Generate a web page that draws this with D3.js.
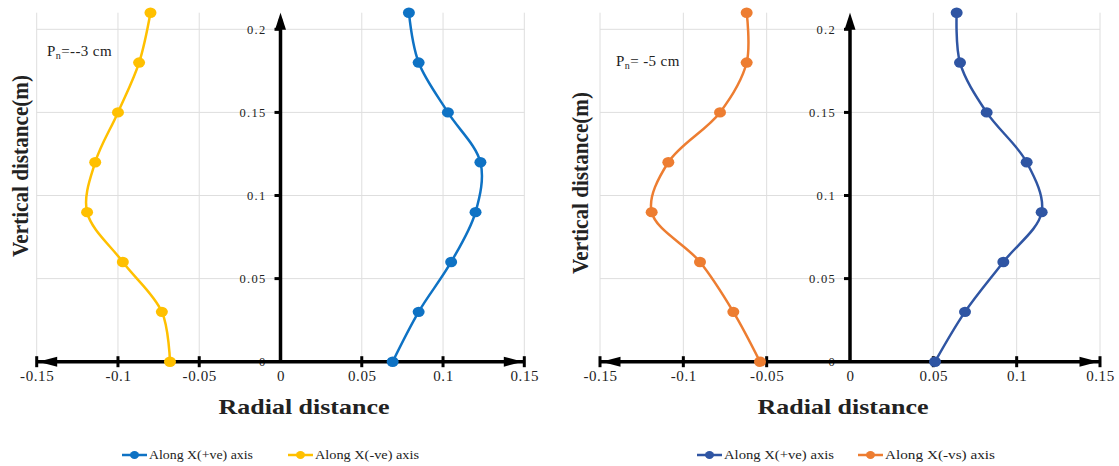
<!DOCTYPE html>
<html>
<head>
<meta charset="utf-8">
<script src="https://cdn.jsdelivr.net/npm/d3@7"></script>
<style>
body { margin: 0; background: #fff; }
text { font-family: "Liberation Serif", "Times New Roman", serif; fill: #222; }
</style>
</head>
<body>
<svg id="chart" width="1119" height="466"></svg>
<script>
// heights (m) where the readings were taken
var heights = [0, 0.03, 0.06, 0.09, 0.12, 0.15, 0.18, 0.21];

// Pn = -3 cm
var posA = [0.069, 0.085, 0.105, 0.12, 0.123, 0.103, 0.085, 0.079];
var negA = [-0.068, -0.073, -0.097, -0.119, -0.114, -0.1, -0.087, -0.08];

// Pn = -5 cm
var posB = [0.051, 0.069, 0.092, 0.115, 0.106, 0.082, 0.066, 0.064];
var negB = [-0.054, -0.07, -0.09, -0.119, -0.109, -0.078, -0.062, -0.062];

var xTicks = [-0.15, -0.1, -0.05, 0, 0.05, 0.1, 0.15];
var yTicks = [0, 0.05, 0.1, 0.15, 0.2];
var legendA = ['Along X(+ve) axis', 'Along X(-ve) axis'];
var legendB = ['Along X(+ve) axis', 'Along X(-vs) axis'];

var svg = d3.select('#chart');

// one panel per Pn value
var panels = [
	{ left: 36.7, right: 524.3, pos: posA, neg: negA, posColor: '#0E72C4', negColor: '#FFC000',
		note: ['P', 'n', '=--3 cm'], noteX: 47, noteY: 56, yTitleX: 20, yTitleY: 166,
		xTitleX: 304, legend: legendA, legX: 122, legGap: 166, legLen: 104 },
	{ left: 600, right: 1100, pos: posB, neg: negB, posColor: '#2F55A3', negColor: '#ED7D31',
		note: ['P', 'n', '= -5 cm'], noteX: 616, noteY: 66, yTitleX: 580, yTitleY: 183,
		xTitleX: 843, legend: legendB, legX: 697, legGap: 161, legLen: 110 }
];

panels.forEach(function(p) {
	var x = d3.scaleLinear().domain([-0.15, 0.15]).range([p.left, p.right]);
	var y = d3.scaleLinear().domain([0, 0.21]).range([361.7, 12.7]);
	var g = svg.append('g');

	// GRID
	g.selectAll('.vgrid').data(xTicks).enter().append('line')
		.attr('x1', function(d) { return x(d); })
		.attr('x2', function(d) { return x(d); })
		.attr('y1', y(0.21)).attr('y2', y(0))
		.attr('stroke', '#dedede').attr('stroke-width', 1);
	g.selectAll('.hgrid').data(yTicks.slice(1)).enter().append('line')
		.attr('x1', x(-0.15)).attr('x2', x(0.15))
		.attr('y1', function(d) { return y(d); })
		.attr('y2', function(d) { return y(d); })
		.attr('stroke', '#dedede').attr('stroke-width', 1);

	// tick labels (plain hyphen minus, like the original)
	var xAxis = d3.axisBottom(x).tickValues(xTicks).tickSize(0).tickPadding(9)
		.tickFormat(function(d) { return String(d); });
	var xg = g.append('g').attr('transform', 'translate(0,' + y(0) + ')').call(xAxis);
	xg.select('.domain').remove();
	xg.selectAll('text').attr('font-size', 15).attr('letter-spacing', 0.6)
		.style('font-family', '"Liberation Serif", serif').attr('fill', '#222');

	var yAxis = d3.axisLeft(y).tickValues(yTicks).tickSize(0).tickPadding(14)
		.tickFormat(function(d) { return String(d); });
	var yg = g.append('g').attr('transform', 'translate(' + x(0) + ',0)').call(yAxis);
	yg.select('.domain').remove();
	yg.selectAll('text').attr('font-size', 12.5).attr('letter-spacing', 1.3)
		.style('font-family', '"Liberation Serif", serif').attr('fill', '#333');

	// AXIS LINES
	g.append('line').attr('x1', x(-0.15)).attr('x2', x(0.15))
		.attr('y1', y(0)).attr('y2', y(0))
		.attr('stroke', '#000').attr('stroke-width', 3.5);
	g.append('line').attr('x1', x(0)).attr('x2', x(0))
		.attr('y1', y(0)).attr('y2', y(0.21) + 6)
		.attr('stroke', '#000').attr('stroke-width', 3.5);

	// tick marks on x axis (crossing), end bars included
	g.selectAll('.xtick').data(xTicks.filter(function(d) { return d !== 0; })).enter().append('line')
		.attr('x1', function(d) { return x(d); })
		.attr('x2', function(d) { return x(d); })
		.attr('y1', y(0) - 5.5).attr('y2', y(0) + 5.5)
		.attr('stroke', '#000').attr('stroke-width', 3);
	g.selectAll('.ytick').data(yTicks.slice(1)).enter().append('line')
		.attr('x1', x(0) - 6).attr('x2', x(0))
		.attr('y1', function(d) { return y(d); })
		.attr('y2', function(d) { return y(d); })
		.attr('stroke', '#000').attr('stroke-width', 3);

	// arrow heads
	var ax0 = x(-0.15) + 1.5, ax1 = x(0.15) - 1.5, ay = y(0);
	g.append('path').attr('d', 'M' + ax0 + ',' + ay + 'L' + (ax0 + 19) + ',' + (ay - 5) + 'L' + (ax0 + 19) + ',' + (ay + 5) + 'Z')
		.attr('fill', '#000');
	g.append('path').attr('d', 'M' + ax1 + ',' + ay + 'L' + (ax1 - 19) + ',' + (ay - 5) + 'L' + (ax1 - 19) + ',' + (ay + 5) + 'Z')
		.attr('fill', '#000');
	var tx = x(0), ty = y(0.21);
	g.append('path').attr('d', 'M' + tx + ',' + ty + 'L' + (tx - 5.5) + ',' + (ty + 17) + 'L' + (tx + 5.5) + ',' + (ty + 17) + 'Z')
		.attr('fill', '#000');

	// SERIES
	var line = d3.line()
		.x(function(d) { return x(d[0]); })
		.y(function(d) { return y(d[1]); })
		.curve(d3.curveCatmullRom.alpha(0.5));

	[[p.pos, p.posColor], [p.neg, p.negColor]].forEach(function(s) {
		var pts = s[0].map(function(v, i) { return [v, heights[i]]; });
		g.append('path').attr('d', line(pts))
			.attr('fill', 'none').attr('stroke', s[1]).attr('stroke-width', 2.5);
		g.selectAll(null).data(pts).enter().append('ellipse')
			.attr('cx', function(d) { return x(d[0]); })
			.attr('cy', function(d) { return y(d[1]); })
			.attr('rx', 6).attr('ry', 5.2)
			.attr('fill', s[1]);
	});

	// Pn note
	var note = g.append('text').attr('x', p.noteX).attr('y', p.noteY)
		.attr('font-size', 15).attr('letter-spacing', 0.4);
	note.append('tspan').text(p.note[0]);
	note.append('tspan').attr('font-size', 10).attr('dy', 3).text(p.note[1]);
	note.append('tspan').attr('dy', -3).text(p.note[2]);

	// TITLES
	g.append('text').attr('x', p.xTitleX).attr('y', 414)
		.attr('text-anchor', 'middle').attr('font-size', 22).attr('font-weight', 'bold')
		.attr('textLength', 171).attr('lengthAdjust', 'spacingAndGlyphs')
		.attr('fill', '#111')
		.text('Radial distance');
	g.append('text')
		.attr('transform', 'translate(' + (p.yTitleX + 8) + ',' + p.yTitleY + ') rotate(-90)')
		.attr('text-anchor', 'middle').attr('font-size', 24).attr('font-weight', 'bold')
		.attr('textLength', 182).attr('lengthAdjust', 'spacingAndGlyphs')
		.attr('fill', '#111')
		.text('Vertical distance(m)');

	// LEGEND
	[p.posColor, p.negColor].forEach(function(c, i) {
		var lx = p.legX + i * p.legGap;
		g.append('line').attr('x1', lx).attr('x2', lx + 25)
			.attr('y1', 455).attr('y2', 455)
			.attr('stroke', c).attr('stroke-width', 2.5);
		g.append('ellipse').attr('cx', lx + 12.5).attr('cy', 455)
			.attr('rx', 4.5).attr('ry', 4).attr('fill', c);
		g.append('text').attr('x', lx + 27).attr('y', 459)
			.attr('font-size', 11.5)
			.attr('textLength', p.legLen).attr('lengthAdjust', 'spacingAndGlyphs')
			.text(p.legend[i]);
	});
});
</script>
</body>
</html>
